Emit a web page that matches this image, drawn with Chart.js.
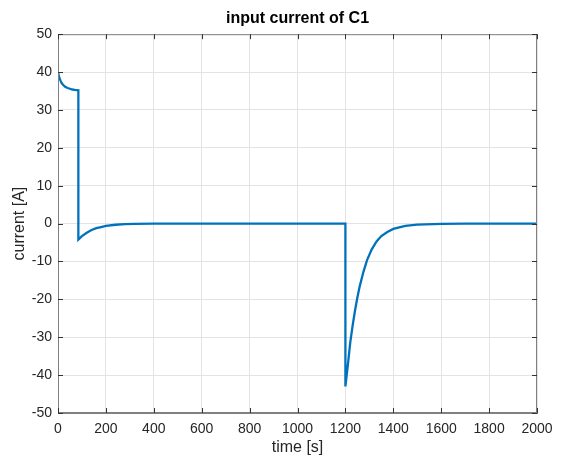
<!DOCTYPE html>
<html>
<head>
<meta charset="utf-8">
<script src="https://cdn.jsdelivr.net/npm/chart.js@4"></script>
<style>
  html, body { margin: 0; padding: 0; background: #fff; }
  #wrap { width: 561px; height: 457px; }
</style>
</head>
<body>
<div id="wrap"><canvas id="grafik"></canvas></div>
<script>
// waktu [s] dan arus [A]
const timeS = [0, 5, 10, 15, 20, 30, 40, 50, 60, 70, 85,
  85, 100, 120, 140, 160, 180, 200, 240, 280, 320, 400, 500, 700, 900, 1100, 1200,
  1200, 1210, 1220, 1230, 1240, 1250, 1260, 1275, 1290, 1310, 1330, 1350, 1375, 1400,
  1450, 1500, 1600, 1700, 1850, 2000];
const currentA = [40.0, 38.6, 37.8, 37.1, 36.7, 36.1, 35.8, 35.6, 35.4, 35.3, 35.2,
  -4.2, -3.3, -2.4, -1.7, -1.2, -0.9, -0.6, -0.3, -0.15, -0.07, -0.02, 0, 0, 0, 0, 0,
  -43, -37.5, -31.5, -27, -23, -19.5, -16.5, -12.8, -9.7, -6.8, -4.7, -3.3, -2.2, -1.4,
  -0.6, -0.25, -0.05, 0, 0, 0];
const xTicks = [0, 200, 400, 600, 800, 1000, 1200, 1400, 1600, 1800, 2000];
const yTicks = [-50, -40, -30, -20, -10, 0, 10, 20, 30, 40, 50];

const points = timeS.map((t, i) => ({ x: t, y: currentA[i] }));
const fontName = '"Liberation Sans", Arial, sans-serif';
const axisColor = '#808080';

// kotak + tick ke dalam ala MATLAB
const kotakPlugin = {
  id: 'kotak',
  afterDraw(chart) {
    const { ctx, chartArea: a, scales } = chart;
    ctx.save();
    ctx.strokeStyle = axisColor;
    ctx.lineWidth = 1;
    ctx.strokeRect(a.left + 0.5, a.top + 0.5, a.right - a.left - 1, a.bottom - a.top - 1);
    ctx.strokeStyle = '#333';
    ctx.beginPath();
    xTicks.forEach(v => {
      const px = Math.round(scales.x.getPixelForValue(v)) + 0.5;
      ctx.moveTo(px, a.bottom); ctx.lineTo(px, a.bottom - 5);
      ctx.moveTo(px, a.top); ctx.lineTo(px, a.top + 5);
    });
    yTicks.forEach(v => {
      const py = Math.round(scales.y.getPixelForValue(v)) + 0.5;
      ctx.moveTo(a.left, py); ctx.lineTo(a.left + 5, py);
      ctx.moveTo(a.right, py); ctx.lineTo(a.right - 5, py);
    });
    ctx.stroke();
    ctx.restore();
  }
};

new Chart(document.getElementById('grafik'), {
  type: 'line',
  data: {
    datasets: [{
      data: points,
      borderColor: '#0072BD',
      borderWidth: 2.3,
      pointRadius: 0,
      tension: 0,
      fill: false
    }]
  },
  options: {
    responsive: true,
    maintainAspectRatio: false,
    animation: false,
    layout: { padding: { left: 0, right: 24, top: 9, bottom: 0 } },
    plugins: {
      legend: { display: false },
      tooltip: { enabled: false },
      title: {
        display: true,
        fullSize: false,
        text: 'input current of C1',
        color: '#000',
        font: { family: fontName, size: 16, weight: 'bold' },
        padding: { top: 0, bottom: 6 }
      }
    },
    scales: {
      x: {
        type: 'linear',
        min: 0, max: 2000,
        afterBuildTicks: s => { s.ticks = xTicks.map(v => ({ value: v })); },
        afterFit: s => { s.height = 44; },
        ticks: { color: '#262626', font: { family: fontName, size: 14 }, padding: 8, maxRotation: 0,
          callback: v => String(v) },
        grid: { color: '#e3e3e3', drawTicks: false },
        border: { color: axisColor },
        title: { display: true, text: 'time [s]', color: '#262626', font: { family: fontName, size: 16 }, padding: { top: 0, bottom: 0 } }
      },
      y: {
        type: 'linear',
        min: -50, max: 50,
        afterBuildTicks: s => { s.ticks = yTicks.map(v => ({ value: v })); },
        afterFit: s => { s.width = 58; },
        ticks: { color: '#262626', font: { family: fontName, size: 14 }, padding: 6,
          callback: v => String(v) },
        grid: { color: '#e3e3e3', drawTicks: false },
        border: { color: axisColor },
        title: { display: true, text: 'current [A]', color: '#262626', font: { family: fontName, size: 16 }, padding: { top: 10, bottom: 0 } }
      }
    }
  },
  plugins: [kotakPlugin]
});
</script>
</body>
</html>
